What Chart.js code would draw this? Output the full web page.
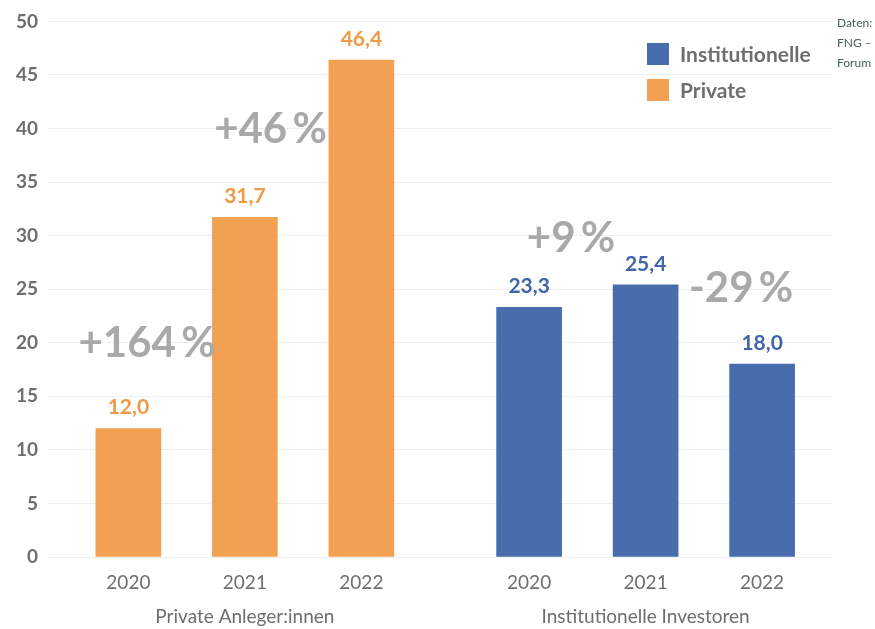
<!DOCTYPE html>
<html>
<head>
<meta charset="utf-8">
<script src="https://cdn.jsdelivr.net/npm/chart.js@4.4.1/dist/chart.umd.min.js"></script>
<style>
  html, body { margin: 0; padding: 0; background: #fff; }
  #wrap { position: relative; width: 875px; height: 629px; }
  #source { position: absolute; left: 837px; top: 13px; font: 12px Lato, sans-serif; line-height: 20px; color: #44605c; }
</style>
</head>
<body>
<div id="wrap">
  <canvas id="chart" width="875" height="629"></canvas>
  <div id="source">Daten:<br>FNG –<br>Forum</div>
</div>
<script>
// Data
const years = ['2020', '2021', '2022'];
const groupNames = ['Private Anleger:innen', 'Institutionelle Investoren'];
const privateValues = [12.0, 31.7, 46.4];
const institutionalValues = [23.3, 25.4, 18.0];
const changeLabels = ['+164\u2009%', '+46\u2009%', '+9\u2009%', '-29\u2009%'];

// Layout helpers
const groupGap = 0.44;
const groupStart = [0, years.length + groupGap];
const privateX = years.map((y, i) => groupStart[0] + i);
const instX = years.map((y, i) => groupStart[1] + i);
const tickPositions = privateX.concat(instX);

// where the change labels sit (data space)
const changePos = [
    { x: 0.16, y: 19.9 },
    { x: 1.22, y: 39.9 },
    { x: 3.80, y: 29.7 },
    { x: 5.26, y: 25.1 }
];

const orange = '#F2A152';
const blue = '#476DAE';
const gray = '#6e6e6e';

const overlay = {
    id: 'overlay',
    afterDatasetsDraw(chart) {
        const ctx = chart.ctx;
        const xs = chart.scales.x;
        const ys = chart.scales.y;
        ctx.save();

        // value labels above bars
        const labelColors = ['#F09A45', '#3F66A8'];
        chart.data.datasets.forEach((ds, di) => {
            const meta = chart.getDatasetMeta(di);
            meta.data.forEach((bar, i) => {
                ctx.font = 'bold 21px Lato, sans-serif';
                ctx.fillStyle = labelColors[di];
                ctx.textAlign = 'center';
                ctx.textBaseline = 'middle';
                ctx.fillText(ds.data[i].y.toFixed(1).replace('.', ','), bar.x, bar.y - 21);
            });
        });

        // change percentages
        ctx.font = 'bold 42px Lato, sans-serif';
        ctx.fillStyle = '#a9a9a9';
        ctx.textAlign = 'center';
        ctx.textBaseline = 'middle';
        changeLabels.forEach((t, i) => {
            ctx.fillText(t, xs.getPixelForValue(changePos[i].x), ys.getPixelForValue(changePos[i].y));
        });

        // group names under the years
        ctx.font = '19px Lato, sans-serif';
        ctx.fillStyle = gray;
        groupNames.forEach((g, i) => {
            const mid = groupStart[i] + (years.length - 1) / 2;
            ctx.fillText(g, xs.getPixelForValue(mid), 617);
        });

        // legend, top right
        const legendItems = [chart.data.datasets[1], chart.data.datasets[0]];
        ctx.font = 'bold 21px Lato, sans-serif';
        ctx.textAlign = 'left';
        legendItems.forEach((ds, i) => {
            const top = 43 + i * 36;
            ctx.fillStyle = ds.backgroundColor;
            ctx.fillRect(647, top, 22, 22);
            ctx.fillStyle = gray;
            ctx.fillText(ds.label, 680, top + 12);
        });
        ctx.restore();
    }
};

new Chart(document.getElementById('chart'), {
    type: 'bar',
    data: {
        datasets: [
            {
                label: 'Private',
                data: privateX.map((x, i) => ({ x: x, y: privateValues[i] })),
                backgroundColor: orange,
                grouped: false,
                barThickness: 65
            },
            {
                label: 'Institutionelle',
                data: instX.map((x, i) => ({ x: x, y: institutionalValues[i] })),
                backgroundColor: blue,
                grouped: false,
                barThickness: 65
            }
        ]
    },
    options: {
        responsive: false,
        animation: false,
        layout: { padding: { top: 19, right: 43, left: 0, bottom: 0 } },
        plugins: {
            legend: { display: false },
            tooltip: { enabled: false }
        },
        scales: {
            x: {
                type: 'linear',
                offset: false,
                min: -0.69,
                max: 6.04,
                grid: { display: false },
                border: { display: false },
                afterBuildTicks(scale) {
                    scale.ticks = tickPositions.map(v => ({ value: v }));
                },
                afterFit(scale) { scale.height = 72; },
                ticks: {
                    autoSkip: false,
                    maxRotation: 0,
                    padding: 6,
                    color: gray,
                    font: { family: 'Lato, sans-serif', size: 19 },
                    callback: (value, index) => years[index % years.length]
                }
            },
            y: {
                min: 0,
                max: 50,
                border: { display: false },
                grid: { color: '#eeeeee', drawTicks: false },
                afterFit(scale) { scale.width = 48; },
                ticks: {
                    stepSize: 5,
                    padding: 10,
                    color: gray,
                    font: { family: 'Lato, sans-serif', size: 19, weight: 'bold' }
                }
            }
        }
    },
    plugins: [overlay]
});
</script>
</body>
</html>
